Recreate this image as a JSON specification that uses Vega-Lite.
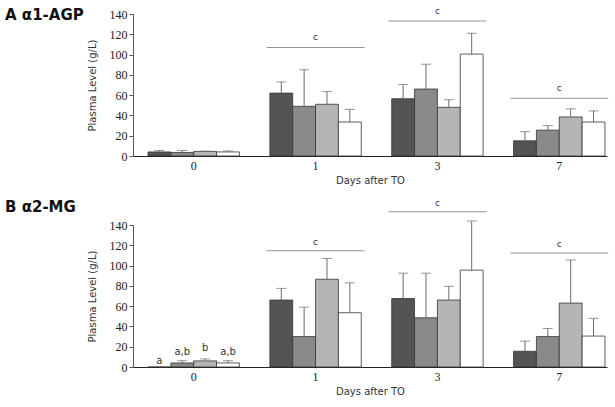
{
  "$schema": "https://vega.github.io/schema/vega-lite/v6.json",
  "padding": {"left": 5, "top": 7, "right": 5, "bottom": 5},
  "background": "white",
  "config": {
    "view": {"stroke": null},
    "axis": {"grid": false, "labelOverlap": false, "labelFont": "'Liberation Serif', 'Times New Roman', serif", "labelFontSize": 12, "labelColor": "#222", "titleFont": "DejaVu Sans", "titleFontSize": 10, "titleFontWeight": "normal", "titleColor": "#333"},
    "axisY": {"tickSize": 4, "tickColor": "#555", "domainColor": "#555", "labelPadding": 2, "titlePadding": 12, "title": "Plasma Level (g/L)"},
    "axisX": {"labelAngle": 0, "ticks": false, "domainColor": "#222", "labelPadding": 4, "titlePadding": 4},
    "title": {"font": "DejaVu Sans", "fontSize": 15, "fontWeight": "bold", "color": "#111", "anchor": "start", "frame": "group"}
  },
  "datasets": {
    "bars": [
      {"panel": "A", "day": "0", "group": "G1", "value": 4, "upper": 5.5},
      {"panel": "A", "day": "0", "group": "G2", "value": 3.5, "upper": 5.5},
      {"panel": "A", "day": "0", "group": "G3", "value": 4.5, "upper": 4.8},
      {"panel": "A", "day": "0", "group": "G4", "value": 4, "upper": 5},
      {"panel": "A", "day": "1", "group": "G1", "value": 62, "upper": 73},
      {"panel": "A", "day": "1", "group": "G2", "value": 49, "upper": 85},
      {"panel": "A", "day": "1", "group": "G3", "value": 51, "upper": 63.5},
      {"panel": "A", "day": "1", "group": "G4", "value": 33.5, "upper": 46},
      {"panel": "A", "day": "3", "group": "G1", "value": 56.5, "upper": 70.5},
      {"panel": "A", "day": "3", "group": "G2", "value": 66, "upper": 90.5},
      {"panel": "A", "day": "3", "group": "G3", "value": 48, "upper": 55.5},
      {"panel": "A", "day": "3", "group": "G4", "value": 100.5, "upper": 121},
      {"panel": "A", "day": "7", "group": "G1", "value": 15, "upper": 24},
      {"panel": "A", "day": "7", "group": "G2", "value": 25.5, "upper": 30},
      {"panel": "A", "day": "7", "group": "G3", "value": 38.5, "upper": 46.5},
      {"panel": "A", "day": "7", "group": "G4", "value": 33.5, "upper": 44.5},
      {"panel": "B", "day": "0", "group": "G1", "value": 0, "upper": 0},
      {"panel": "B", "day": "0", "group": "G2", "value": 4, "upper": 6.2},
      {"panel": "B", "day": "0", "group": "G3", "value": 6, "upper": 8},
      {"panel": "B", "day": "0", "group": "G4", "value": 4, "upper": 6.2},
      {"panel": "B", "day": "1", "group": "G1", "value": 66, "upper": 77.5},
      {"panel": "B", "day": "1", "group": "G2", "value": 30, "upper": 59},
      {"panel": "B", "day": "1", "group": "G3", "value": 86.5, "upper": 107},
      {"panel": "B", "day": "1", "group": "G4", "value": 53.5, "upper": 83},
      {"panel": "B", "day": "3", "group": "G1", "value": 67.5, "upper": 92.5},
      {"panel": "B", "day": "3", "group": "G2", "value": 48.5, "upper": 92.5},
      {"panel": "B", "day": "3", "group": "G3", "value": 66, "upper": 79.5},
      {"panel": "B", "day": "3", "group": "G4", "value": 95.5, "upper": 144},
      {"panel": "B", "day": "7", "group": "G1", "value": 15.5, "upper": 25.5},
      {"panel": "B", "day": "7", "group": "G2", "value": 30, "upper": 38},
      {"panel": "B", "day": "7", "group": "G3", "value": 63, "upper": 105.5},
      {"panel": "B", "day": "7", "group": "G4", "value": 30.5, "upper": 48}
    ],
    "sig": [
      {"panel": "A", "day": "1", "level": 107, "label": "c"},
      {"panel": "A", "day": "3", "level": 133, "label": "c"},
      {"panel": "A", "day": "7", "level": 57, "label": "c"},
      {"panel": "B", "day": "1", "level": 114.5, "label": "c"},
      {"panel": "B", "day": "3", "level": 153, "label": "c"},
      {"panel": "B", "day": "7", "level": 112.5, "label": "c"}
    ],
    "letters": [
      {"panel": "B", "day": "0", "group": "G1", "level": 5.5, "label": "a"},
      {"panel": "B", "day": "0", "group": "G2", "level": 14.5, "label": "a,b"},
      {"panel": "B", "day": "0", "group": "G3", "level": 18.5, "label": "b"},
      {"panel": "B", "day": "0", "group": "G4", "level": 14.5, "label": "a,b"}
    ]
  },
  "spacing": 13,
  "vconcat": [
    {
      "width": 474,
      "height": 142,
      "title": {"text": "A α1-AGP", "dx": -128, "offset": -16},
      "encoding": {
        "x": {"field": "day", "type": "nominal", "sort": ["0", "1", "3", "7"],
          "scale": {"domain": ["0", "1", "3", "7"], "paddingInner": 0.25, "paddingOuter": 0.07, "align": 0.88},
          "axis": {"title": "Days after TO"}}
      },
      "layer": [
        {
          "data": {"name": "bars"},
          "transform": [{"filter": "datum.panel === 'A'"}],
          "mark": {"type": "bar", "stroke": "#333", "strokeWidth": 0.8},
          "encoding": {
            "xOffset": {"field": "group", "type": "nominal", "scale": {"paddingInner": 0, "paddingOuter": 0}},
            "y": {"field": "value", "type": "quantitative", "scale": {"domain": [0, 140], "nice": false},
              "axis": {"title": "Plasma Level (g/L)", "values": [0, 20, 40, 60, 80, 100, 120, 140], "tickCount": 8}},
            "fill": {"field": "group", "type": "nominal", "legend": null,
              "scale": {"domain": ["G1", "G2", "G3", "G4"], "range": ["#545454", "#8a8a8a", "#b5b5b5", "#ffffff"]}}
          }
        },
        {
          "data": {"name": "bars"},
          "transform": [{"filter": "datum.panel === 'A'"}],
          "mark": {"type": "rule", "color": "#6a6a6a", "strokeWidth": 1},
          "encoding": {
            "xOffset": {"field": "group", "type": "nominal"},
            "y": {"field": "value", "type": "quantitative", "axis": {"title": "Plasma Level (g/L)", "values": [0, 20, 40, 60, 80, 100, 120, 140], "tickCount": 8}},
            "y2": {"field": "upper"}
          }
        },
        {
          "data": {"name": "bars"},
          "transform": [{"filter": "datum.panel === 'A'"}],
          "mark": {"type": "tick", "color": "#6a6a6a", "thickness": 1, "size": 10, "orient": "horizontal"},
          "encoding": {
            "xOffset": {"field": "group", "type": "nominal"},
            "y": {"field": "upper", "type": "quantitative", "axis": {"title": "Plasma Level (g/L)", "values": [0, 20, 40, 60, 80, 100, 120, 140], "tickCount": 8}}
          }
        },
        {
          "data": {"name": "sig"},
          "transform": [{"filter": "datum.panel === 'A'"}],
          "mark": {"type": "tick", "color": "#666", "thickness": 1, "size": 98, "orient": "horizontal"},
          "encoding": {
            "y": {"field": "level", "type": "quantitative", "axis": {"title": "Plasma Level (g/L)", "values": [0, 20, 40, 60, 80, 100, 120, 140], "tickCount": 8}}
          }
        },
        {
          "data": {"name": "sig"},
          "transform": [{"filter": "datum.panel === 'A'"}],
          "mark": {"type": "text", "font": "DejaVu Sans", "fontSize": 9, "color": "#333", "dy": -10, "baseline": "middle"},
          "encoding": {
            "y": {"field": "level", "type": "quantitative", "axis": {"title": "Plasma Level (g/L)", "values": [0, 20, 40, 60, 80, 100, 120, 140], "tickCount": 8}},
            "text": {"field": "label"}
          }
        }
      ]
    },
    {
      "width": 474,
      "height": 142,
      "title": {"text": "B α2-MG", "dx": -128, "offset": -16},
      "encoding": {
        "x": {"field": "day", "type": "nominal", "sort": ["0", "1", "3", "7"],
          "scale": {"domain": ["0", "1", "3", "7"], "paddingInner": 0.25, "paddingOuter": 0.07, "align": 0.88},
          "axis": {"title": "Days after TO"}}
      },
      "layer": [
        {
          "data": {"name": "bars"},
          "transform": [{"filter": "datum.panel === 'B'"}],
          "mark": {"type": "bar", "stroke": "#333", "strokeWidth": 0.8},
          "encoding": {
            "xOffset": {"field": "group", "type": "nominal", "scale": {"paddingInner": 0, "paddingOuter": 0}},
            "y": {"field": "value", "type": "quantitative", "scale": {"domain": [0, 140], "nice": false},
              "axis": {"title": "Plasma Level (g/L)", "values": [0, 20, 40, 60, 80, 100, 120, 140], "tickCount": 8}},
            "fill": {"field": "group", "type": "nominal", "legend": null,
              "scale": {"domain": ["G1", "G2", "G3", "G4"], "range": ["#545454", "#8a8a8a", "#b5b5b5", "#ffffff"]}}
          }
        },
        {
          "data": {"name": "bars"},
          "transform": [{"filter": "datum.panel === 'B' && datum.upper > datum.value"}],
          "mark": {"type": "rule", "color": "#6a6a6a", "strokeWidth": 1},
          "encoding": {
            "xOffset": {"field": "group", "type": "nominal"},
            "y": {"field": "value", "type": "quantitative", "axis": {"title": "Plasma Level (g/L)", "values": [0, 20, 40, 60, 80, 100, 120, 140], "tickCount": 8}},
            "y2": {"field": "upper"}
          }
        },
        {
          "data": {"name": "bars"},
          "transform": [{"filter": "datum.panel === 'B' && datum.upper > datum.value"}],
          "mark": {"type": "tick", "color": "#6a6a6a", "thickness": 1, "size": 10, "orient": "horizontal"},
          "encoding": {
            "xOffset": {"field": "group", "type": "nominal"},
            "y": {"field": "upper", "type": "quantitative", "axis": {"title": "Plasma Level (g/L)", "values": [0, 20, 40, 60, 80, 100, 120, 140], "tickCount": 8}}
          }
        },
        {
          "data": {"name": "sig"},
          "transform": [{"filter": "datum.panel === 'B'"}],
          "mark": {"type": "tick", "color": "#666", "thickness": 1, "size": 98, "orient": "horizontal"},
          "encoding": {
            "y": {"field": "level", "type": "quantitative", "axis": {"title": "Plasma Level (g/L)", "values": [0, 20, 40, 60, 80, 100, 120, 140], "tickCount": 8}}
          }
        },
        {
          "data": {"name": "sig"},
          "transform": [{"filter": "datum.panel === 'B'"}],
          "mark": {"type": "text", "font": "DejaVu Sans", "fontSize": 9, "color": "#333", "dy": -9, "baseline": "middle"},
          "encoding": {
            "y": {"field": "level", "type": "quantitative", "axis": {"title": "Plasma Level (g/L)", "values": [0, 20, 40, 60, 80, 100, 120, 140], "tickCount": 8}},
            "text": {"field": "label"}
          }
        },
        {
          "data": {"name": "letters"},
          "mark": {"type": "text", "font": "DejaVu Sans", "fontSize": 10, "color": "#333", "baseline": "middle"},
          "encoding": {
            "xOffset": {"field": "group", "type": "nominal"},
            "y": {"field": "level", "type": "quantitative", "axis": {"title": "Plasma Level (g/L)", "values": [0, 20, 40, 60, 80, 100, 120, 140], "tickCount": 8}},
            "text": {"field": "label"}
          }
        }
      ]
    }
  ]
}
